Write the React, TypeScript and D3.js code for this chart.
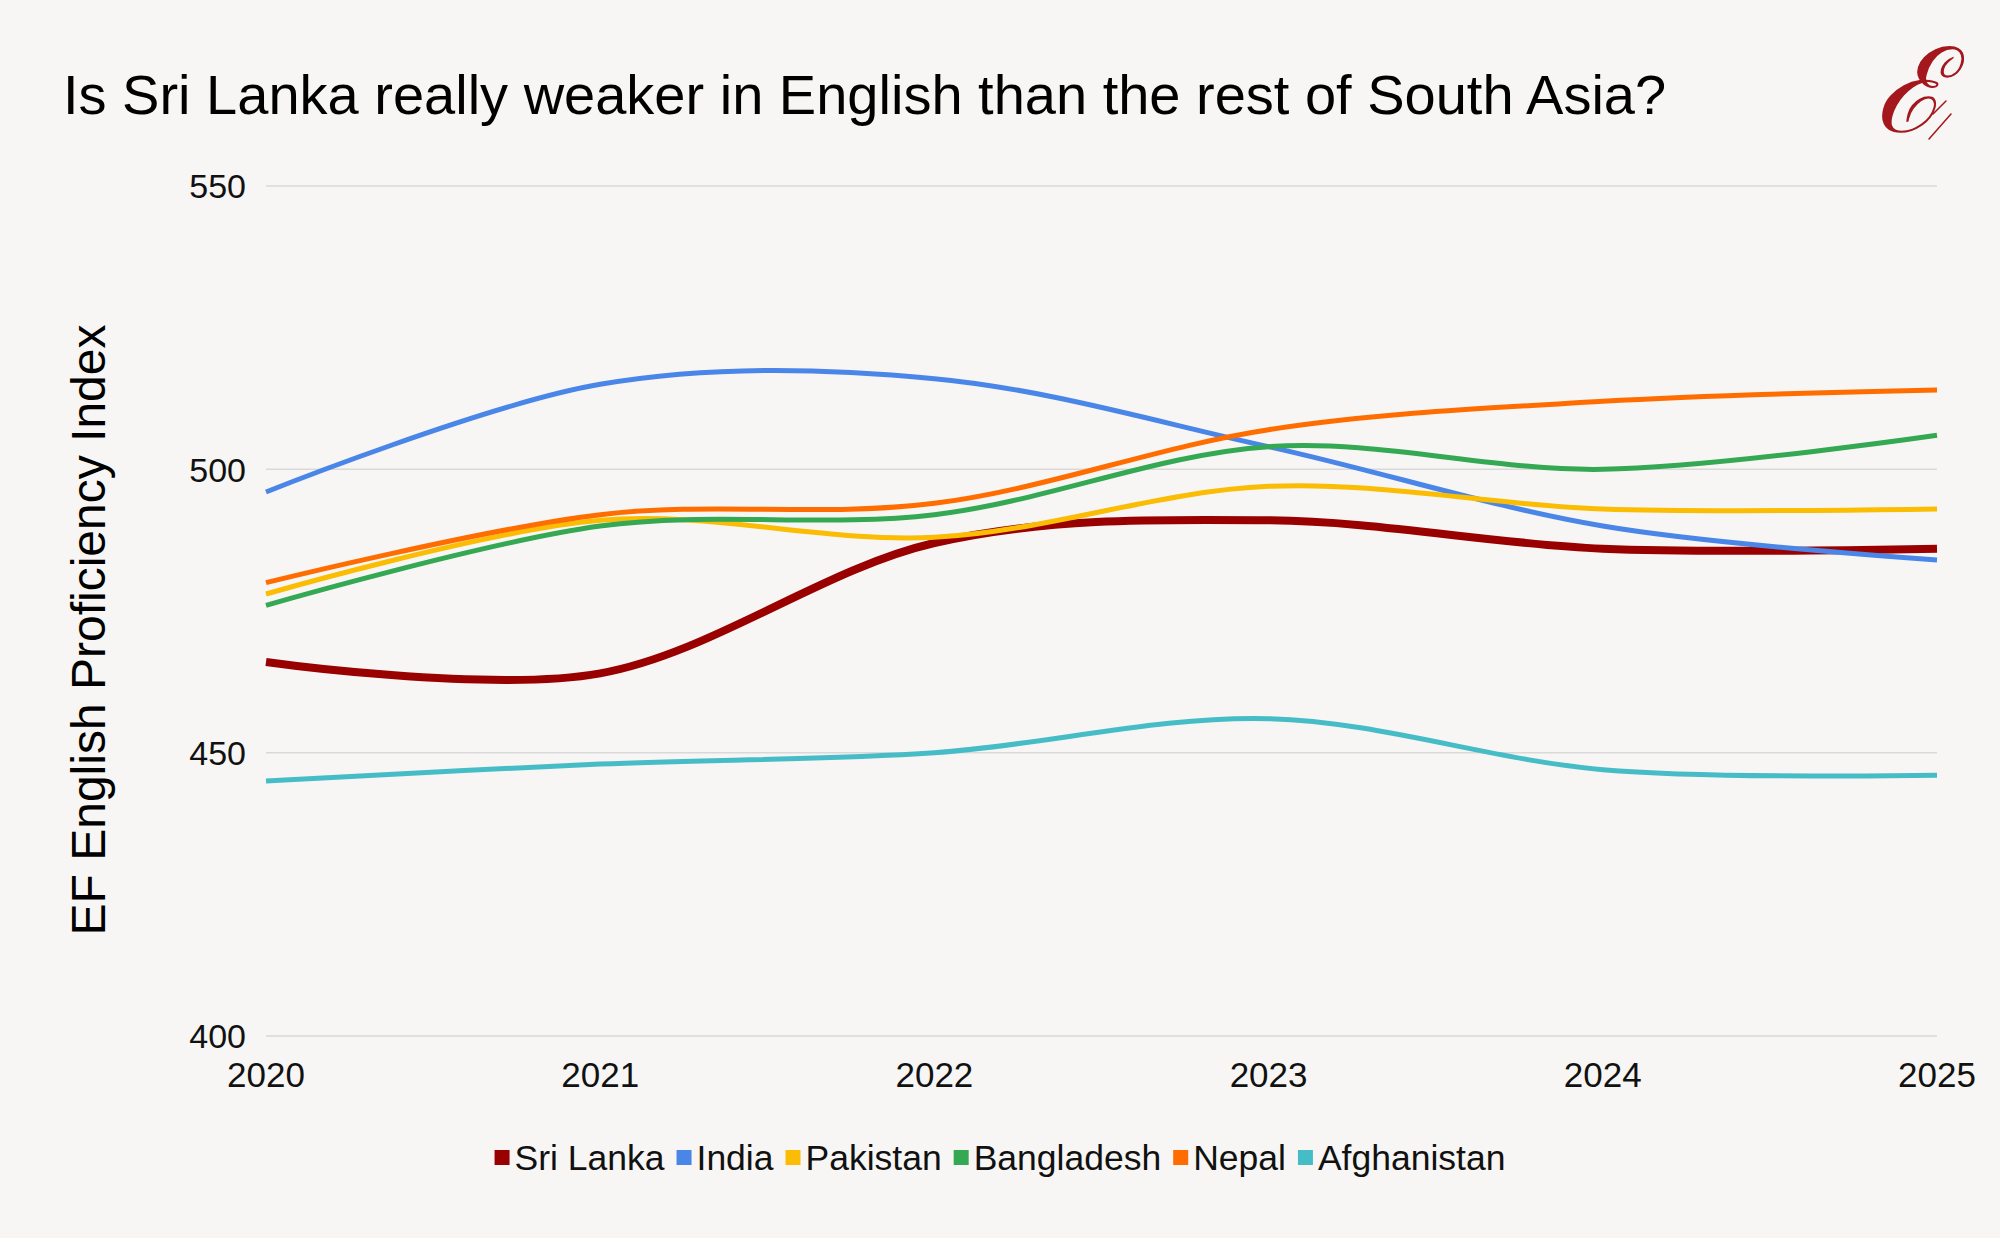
import * as d3 from "d3";

const years = [2020, 2021, 2022, 2023, 2024, 2025];
const countries = ["Sri Lanka", "India", "Pakistan", "Bangladesh", "Nepal", "Afghanistan"];
const sriLanka = [466, 464, 487, 491, 486, 486];
const india = [496, 515, 516, 504, 490, 484];
const pakistan = [478, 491, 488, 497, 493, 493];
const bangladesh = [476, 490, 492, 504, 500, 506];
const nepal = [480, 492, 494, 507, 512, 514];
const afghanistan = [445, 448, 450, 456, 447, 446];
const yTicks = [400, 450, 500, 550];
const colors = ["#990000", "#4a86e8", "#fbbc04", "#34a853", "#ff6d01", "#46bdc6"];

const seriesValues = [sriLanka, india, pakistan, bangladesh, nepal, afghanistan];

const W = 2000;
const H = 1238;
const FONT = "'Liberation Sans', Arial, sans-serif";
const margin = { top: 186, right: 63, bottom: 202, left: 266 };

const measure = (text: string, size: number) => {
  const ctx = document.createElement("canvas").getContext("2d");
  if (!ctx) return text.length * size * 0.5;
  ctx.font = `${size}px ${FONT}`;
  return ctx.measureText(text).width;
};

export default function App() {
  const x = d3
    .scaleLinear()
    .domain([years[0], years[years.length - 1]])
    .range([margin.left, W - margin.right]);
  const y = d3
    .scaleLinear()
    .domain([400, 550])
    .range([H - margin.bottom, margin.top]);

  const line = d3
    .line<number>()
    .x((_, i) => x(years[i]))
    .y((d) => y(d))
    .curve(d3.curveCardinal.tension(0));

  // legend layout, centred on the page
  const legendSize = 35.5;
  const sq = 15;
  const items = countries.map((c) => ({ c, w: measure(c, legendSize) }));
  const total = d3.sum(items, (d) => sq + 5 + d.w) + 12 * (items.length - 1);
  let lx = 1000 - total / 2;
  const legend = items.map((d, i) => {
    const pos = lx;
    lx += sq + 5 + d.w + 12;
    return { ...d, x: pos, color: colors[i] };
  });

  return (
    <svg
      width={W}
      height={H}
      style={{ position: "absolute", left: 0, top: 0, display: "block" }}
      fontFamily={FONT}
    >
      <rect width={W} height={H} fill="#f7f6f4" />

      <text x={63} y={114} fontSize={56} fill="#000">
        Is Sri Lanka really weaker in English than the rest of South Asia?
      </text>

      {/* logo */}
      <g fill="none" stroke="#a3171d" strokeLinecap="round">
        <text
          x={1909}
          y={132}
          fontSize={118}
          fontFamily="'DejaVu Serif', serif"
          fontStyle="italic"
          fill="#a3171d"
          stroke="none"
          textAnchor="middle"
        >
          ℰ
        </text>
        <line x1={1933} y1={114} x2={1946} y2={101} strokeWidth={1.5} />
        <line x1={1929} y1={139} x2={1951} y2={114} strokeWidth={1.5} />
      </g>

      {yTicks.map((t) => (
        <g key={t}>
          <line
            x1={margin.left}
            x2={W - margin.right}
            y1={y(t)}
            y2={y(t)}
            stroke="#d9d9d9"
            strokeWidth={1.5}
          />
          <text x={246} y={y(t)} dy="0.36em" textAnchor="end" fontSize={34} fill="#111">
            {t}
          </text>
        </g>
      ))}

      {years.map((yr) => (
        <text key={yr} x={x(yr)} y={1087} textAnchor="middle" fontSize={35} fill="#111">
          {yr}
        </text>
      ))}

      <text
        transform={`translate(105,630) rotate(-90)`}
        textAnchor="middle"
        fontSize={48}
        fill="#000"
      >
        EF English Proficiency Index
      </text>

      {seriesValues.map((vals, i) => (
        <path
          key={countries[i]}
          d={line(vals) ?? ""}
          fill="none"
          stroke={colors[i]}
          strokeWidth={i === 0 ? 8 : 5}
          strokeLinejoin="round"
        />
      ))}

      {legend.map((d) => (
        <g key={d.c}>
          <rect x={d.x} y={1150} width={sq} height={sq} fill={d.color} />
          <text x={d.x + sq + 5} y={1170} fontSize={legendSize} fill="#111">
            {d.c}
          </text>
        </g>
      ))}
    </svg>
  );
}
